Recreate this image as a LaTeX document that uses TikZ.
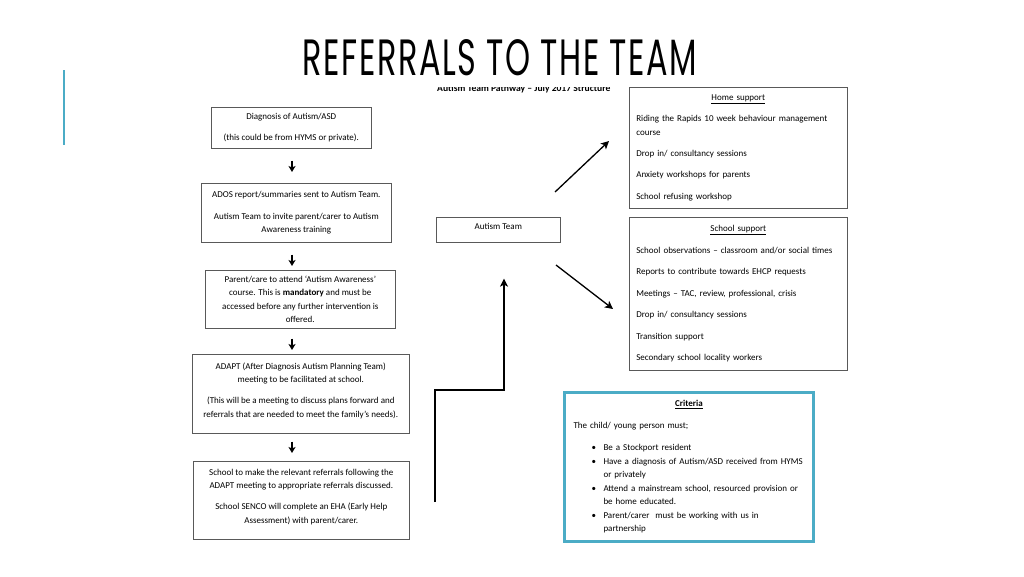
\documentclass[tikz,border=0pt]{standalone}
\usepackage{fontspec}
\setmainfont{Carlito}
\newfontfamily\titlefont[LetterSpace=5]{Poppins}
\usetikzlibrary{arrows,arrows.meta}
\definecolor{tealline}{RGB}{75,172,198}

\begin{document}
\begin{tikzpicture}[x=1pt,y=-1pt,
      box/.style={draw=black!65,line width=0.6pt,anchor=north west,align=center,
        inner sep=3pt,font=\fontsize{9}{13.5}\selectfont},
      listbox/.style={box,align=left,inner xsep=7pt,text width=204pt},
      down/.style={-{Stealth[length=6pt,width=7pt,inset=1.5pt]},line width=1.6pt},
      link/.style={-{Stealth[length=8pt,width=8pt,inset=2pt]},line width=1.3pt}]
      \useasboundingbox (0,0) rectangle (1024,576);
      \draw[tealline,line width=1.6pt] (64,70) -- (64,145);
      \node[anchor=south,inner sep=0pt] (title) at (500,76)
        {\resizebox{394pt}{36pt}{\titlefont REFERRALS TO THE TEAM}};
      \begin{scope}
      \clip (430,87.5) rectangle (620,100);
      \node[anchor=base west,inner sep=0pt,font=\bfseries\fontsize{9.6}{10}\selectfont] (pathway) at (437,91.5)
        {Autism Team Pathway -- July 2017 Structure};
      \end{scope}
      % left column
      \node[box,minimum width=160pt,minimum height=41pt] (diag) at (211,107)
        {Diagnosis of Autism/ASD\\[7.5pt](this could be from HYMS or private).};
      \node[box,minimum width=190pt,minimum height=59pt] (ados) at (201,183)
        {ADOS report/summaries sent to Autism Team.\\[8pt]
         Autism Team to invite parent/carer to Autism\\ Awareness training};
      \node[box,minimum width=190pt,minimum height=58pt] (course) at (205,270)
        {Parent/care to attend ‘Autism Awareness’\\ course. This is \textbf{mandatory} and must be\\
         accessed before any further intervention is\\ offered.};
      \node[box,minimum width=217pt,minimum height=79pt] (adapt) at (192,354)
        {ADAPT (After Diagnosis Autism Planning Team)\\ meeting to be facilitated at school.\\[7.5pt]
         (This will be a meeting to discuss plans forward and\\ referrals that are needed to meet the family’s needs).\\[-5.5pt]};
      \node[box,minimum width=216pt,minimum height=78pt] (school) at (193,461)
        {School to make the relevant referrals following the\\ ADAPT meeting to appropriate referrals discussed.\\[7.5pt]
         School SENCO will complete an EHA (Early Help\\ Assessment) with parent/carer.\\[-5.5pt]};
      \coordinate (ax) at (292,0);
      \draw[down,shorten <=12pt,shorten >=11pt] (diag.south -| ax) -- (ados.north -| ax);
      \draw[down,shorten <=12pt,shorten >=4pt] (ados.south -| ax) -- (course.north -| ax);
      \draw[down,shorten <=10pt,shorten >=4pt] (course.south -| ax) -- (adapt.north -| ax);
      \draw[down,shorten <=8pt,shorten >=8pt] (adapt.south -| ax) -- (school.north -| ax);
      % team and support
      \node[box,minimum width=124pt,minimum height=25pt] (team) at (436,217) {Autism Team\\[-7pt]};
      \node[listbox,minimum width=218pt,minimum height=121pt] (home) at (629,87)
        {\makebox[204pt]{\underline{Home support}}\\[7.5pt]
         Riding the Rapids 10 week behaviour management\\ course\\[7.5pt]
         Drop in/ consultancy sessions\\[8pt]
         Anxiety workshops for parents\\[8pt]
         School refusing workshop};
      \node[listbox,minimum width=218pt,minimum height=153pt] (schoolsup) at (629,217)
        {\makebox[204pt]{\underline{School support}}\\[8pt]
         School observations -- classroom and/or social times\\[8pt]
         Reports to contribute towards EHCP requests\\[8pt]
         Meetings -- TAC, review, professional, crisis\\[8pt]
         Drop in/ consultancy sessions\\[8pt]
         Transition support\\[8pt]
         Secondary school locality workers};
      \node[box,draw=tealline,line width=3pt,align=left,inner xsep=7.5pt,text width=231pt,
        minimum width=249pt,minimum height=149pt] (criteria) at (563,391)
        {\makebox[231pt]{\textbf{\underline{Criteria}}}\\[8.5pt]
         The child/ young person must;\\[8.5pt]
         \makebox[30pt][l]{\hspace*{18pt}\textbullet}Be a Stockport resident\\
         \makebox[30pt][l]{\hspace*{18pt}\textbullet}Have a diagnosis of Autism/ASD received from HYMS\\
         \hspace*{30pt}or privately\\
         \makebox[30pt][l]{\hspace*{18pt}\textbullet}Attend a mainstream school, resourced provision or\\
         \hspace*{30pt}be home educated.\\
         \makebox[30pt][l]{\hspace*{18pt}\textbullet}Parent/carer~ must be working with us in\\
         \hspace*{30pt}partnership};
      \coordinate (h0) at (555,192);
      \coordinate (h1) at (609,141);
      \coordinate (s0) at (556,265);
      \coordinate (s1) at (613,309);
      \draw[link] (h0) -- (h1);
      \draw[link] (s0) -- (s1);
      \coordinate (e0) at (435,502);
      \coordinate (e1) at (504,390);
      \draw[link,shorten >=36pt] (e0) |- (e1) -- (e1 |- team.south);
\end{tikzpicture}
\end{document}
